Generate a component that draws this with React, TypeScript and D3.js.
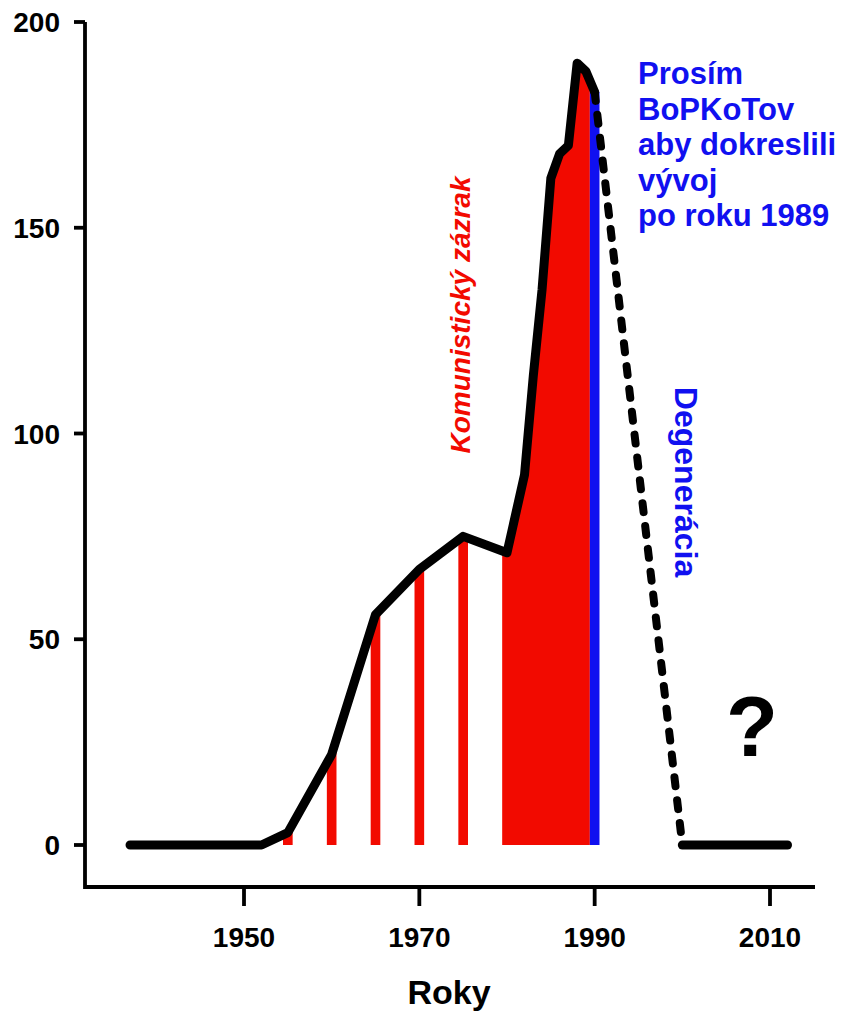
import React from "react";
import * as d3 from "d3";

const years = [1937, 1952, 1955, 1960, 1965, 1970, 1975, 1980, 1982, 1983, 1984, 1985, 1986, 1987, 1988, 1989, 1990];
const values = [0, 0, 3, 22, 56, 67, 75, 71, 90, 114, 135, 162, 168, 170, 190, 188, 183];
const dashedYears = [1990, 2000];
const dashedValues = [183, 0];
const tailYears = [2000, 2012];
const tailValues = [0, 0];
const stripeYears = [1955, 1960, 1965, 1970, 1975];
const redSpan = [1979.45, 1989.45];
const blueYear = 1990;
const blueValue = 183;
const xTicks = [1950, 1970, 1990, 2010];
const yTicks = [0, 50, 100, 150, 200];
const infoLines = ["Prosím", "BoPKoTov", "aby dokreslili", "vývoj", "po roku 1989"];

const W = 843;
const H = 1012;
const FONT = "'Liberation Sans', Arial, sans-serif";

export default function App() {
  const x = d3.scaleLinear().domain([1950, 2010]).range([244, 770]);
  const y = d3.scaleLinear().domain([0, 200]).range([845, 22]);
  const pts = years.map((yr, i) => [yr, values[i]] as [number, number]);
  const line = d3.line<[number, number]>().x((d) => x(d[0])).y((d) => y(d[1]));
  const area = d3
    .area<[number, number]>()
    .x((d) => x(d[0]))
    .y0(y(0))
    .y1((d) => y(d[1]));
  const areaPath = area(pts) || "";
  const halfW = 0.55;
  const dashPts = dashedYears.map((yr, i) => [yr, dashedValues[i]] as [number, number]);
  const tailPts = tailYears.map((yr, i) => [yr, tailValues[i]] as [number, number]);
  const axisY = 887;
  const axisX = 85;

  return (
    <svg width={W} height={H} style={{ position: "fixed", left: 0, top: 0, background: "#fff" }}>
      <defs>
        <clipPath id="stripes">
          {stripeYears.map((yr) => (
            <rect key={yr} x={x(yr - halfW)} y={0} width={x(yr + halfW) - x(yr - halfW)} height={H} />
          ))}
        </clipPath>
        <clipPath id="redspan">
          <rect x={x(redSpan[0])} y={0} width={x(redSpan[1]) - x(redSpan[0])} height={H} />
        </clipPath>
      </defs>
      <rect width={W} height={H} fill="#fff" />
      <path d={areaPath} fill="#f20a00" clipPath="url(#stripes)" />
      <path d={areaPath} fill="#f20a00" clipPath="url(#redspan)" />
      <rect
        x={x(blueYear - halfW)}
        y={y(blueValue)}
        width={x(blueYear + halfW) - x(blueYear - halfW)}
        height={y(0) - y(blueValue)}
        fill="#1010f0"
      />

      <path d={line(dashPts) || ""} fill="none" stroke="#000" strokeWidth={8} strokeDasharray="9,14" strokeLinecap="round" />
      <path d={line(pts) || ""} fill="none" stroke="#000" strokeWidth={9} strokeLinejoin="round" strokeLinecap="round" />
      <path d={line(tailPts) || ""} fill="none" stroke="#000" strokeWidth={9} strokeLinecap="round" />

      {/* axes */}
      <path d={`M${axisX},${y(200)}V${axisY}H815`} fill="none" stroke="#000" strokeWidth={3.8} />
      {yTicks.map((t) => (
        <g key={t}>
          <line x1={axisX - 11} x2={axisX} y1={y(t)} y2={y(t)} stroke="#000" strokeWidth={3.8} />
          <text x={60} y={y(t)} dy="0.36em" textAnchor="end" fontFamily={FONT} fontWeight="bold" fontSize={28}>
            {t}
          </text>
        </g>
      ))}
      {xTicks.map((t) => (
        <g key={t}>
          <line x1={x(t)} x2={x(t)} y1={axisY} y2={axisY + 19} stroke="#000" strokeWidth={3.8} />
          <text x={x(t)} y={947} textAnchor="middle" fontFamily={FONT} fontWeight="bold" fontSize={28}>
            {t}
          </text>
        </g>
      ))}
      <text x={449} y={1004} textAnchor="middle" fontFamily={FONT} fontWeight="bold" fontSize={34}>
        Roky
      </text>

      <text
        transform="translate(470,315) rotate(-90)"
        textAnchor="middle"
        fontFamily={FONT}
        fontWeight="bold"
        fontStyle="italic"
        fontSize={28}
        fill="#f20a00"
      >
        Komunistický zázrak
      </text>
      <text
        transform="translate(675,482) rotate(90)"
        textAnchor="middle"
        fontFamily={FONT}
        fontWeight="bold"
        fontSize={32}
        fill="#1010f0"
      >
        Degenerácia
      </text>
      {infoLines.map((s, i) => (
        <text key={s} x={638} y={84 + i * 35.5} fontFamily={FONT} fontWeight="bold" fontSize={31} fill="#1010f0">
          {s}
        </text>
      ))}
      <text x={752} y={756} textAnchor="middle" fontFamily={FONT} fontWeight="bold" fontSize={85}>
        ?
      </text>
    </svg>
  );
}
